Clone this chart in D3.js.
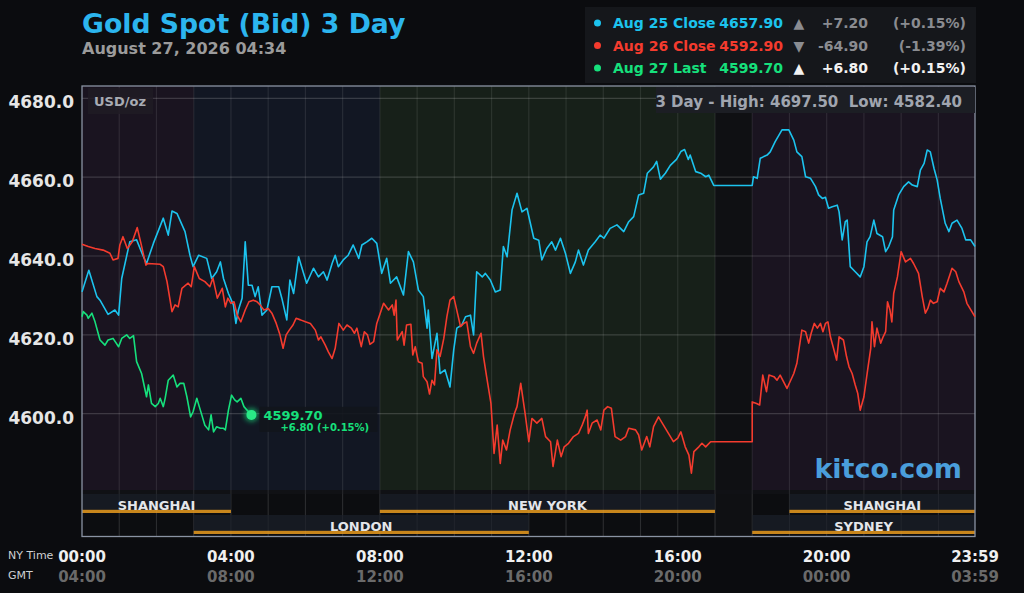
<!DOCTYPE html>
<html><head><meta charset="utf-8">
<script src="https://cdn.jsdelivr.net/npm/d3@7"></script>
<style>
html,body{margin:0;padding:0;background:#0b0c0f;overflow:hidden;}
svg{display:block;font-family:"DejaVu Sans",sans-serif;}
</style></head><body>
<svg id="c" width="1024" height="593"></svg>
<script>
// ---------- DATA (minutes after 00:00 NY time, price USD/oz) ----------
const aug25Times = [0,11,24,29,42,53,59,64,77,88,98,104,115,131,139,145,153,166,174,179,188,201,209,217,223,228,236,244,248,252,258,263,268,274,279,284,290,298,306,317,322,330,335,341,349,357,362,373,381,389,395,403,408,413,421,429,437,446,451,459,467,475,483,491,497,507,518,526,534,542,550,556,558,564,572,577,585,593,599,604,612,618,626,631,636,645,650,658,666,674,679,685,693,701,709,717,728,736,741,749,757,763,771,779,787,795,800,808,816,827,835,841,851,862,873,881,889,897,905,911,921,926,932,940,948,958,965,971,977,980,989,997,1005,1010,1018,1080,1082,1088,1093,1104,1109,1117,1128,1139,1147,1152,1160,1166,1174,1182,1187,1193,1198,1203,1209,1217,1220,1225,1230,1233,1238,1246,1254,1260,1265,1270,1276,1281,1290,1295,1300,1306,1308,1316,1324,1332,1338,1346,1351,1357,1362,1367,1373,1378,1383,1391,1397,1402,1410,1418,1424,1432,1439];
const aug25Values = [4630.9,4636.4,4629.7,4628.8,4625.2,4626.3,4625.0,4634.3,4643.6,4644.1,4640.2,4638.1,4643.2,4649.6,4645.3,4651.4,4650.8,4646.2,4640.2,4637.3,4640.2,4639.4,4634.3,4636.0,4638.5,4634.3,4630.5,4627.6,4622.9,4626.3,4629.3,4643.6,4632.6,4632.6,4629.7,4632.2,4625.0,4626.3,4632.2,4632.2,4629.3,4623.8,4633.9,4630.5,4639.8,4635.6,4633.1,4636.9,4634.7,4636.0,4633.9,4638.1,4640.2,4637.3,4639.0,4640.2,4642.8,4639.4,4642.8,4643.6,4644.5,4643.2,4635.6,4639.4,4633.1,4634.7,4630.1,4641.1,4638.5,4631.4,4629.7,4621.7,4626.3,4614.0,4620.4,4610.2,4611.1,4606.8,4616.2,4621.7,4622.5,4624.6,4625.0,4620.0,4636.0,4634.7,4635.6,4633.9,4630.9,4631.4,4642.4,4639.8,4651.7,4655.9,4651.2,4652.1,4644.5,4644.0,4639.0,4641.9,4643.6,4641.5,4644.5,4640.7,4635.6,4638.5,4641.5,4637.7,4641.5,4643.6,4645.3,4644.5,4647.0,4647.9,4646.2,4648.7,4650.0,4655.5,4655.9,4661.0,4662.6,4664.0,4659.5,4661.0,4663.0,4664.5,4666.5,4667.0,4664.5,4665.6,4661.4,4661.0,4660.1,4660.5,4657.9,4657.9,4660.1,4659.7,4664.8,4665.6,4666.4,4669.0,4672.0,4672.0,4669.4,4666.4,4665.2,4660.1,4659.7,4657.6,4655.5,4654.6,4654.9,4652.1,4652.5,4652.9,4651.2,4644.1,4648.7,4649.1,4637.3,4636.0,4634.7,4637.3,4643.6,4644.9,4649.1,4645.7,4644.9,4641.1,4642.4,4644.9,4651.7,4655.5,4657.6,4658.8,4658.0,4657.6,4661.8,4663.5,4666.9,4666.4,4662.2,4659.3,4654.6,4648.3,4646.2,4648.3,4649.1,4647.0,4644.1,4644.1,4642.4];

const aug26Times = [0,10,21,34,45,50,58,61,66,73,81,89,95,98,103,106,126,131,137,145,150,155,161,171,176,181,189,198,206,211,218,226,231,235,240,245,250,256,263,269,276,282,287,293,300,306,313,319,324,329,334,340,345,352,360,368,376,381,385,392,397,403,408,414,421,427,434,439,443,450,455,460,464,470,475,486,494,500,503,506,508,516,519,523,530,533,537,542,548,550,556,560,564,568,572,577,583,588,593,599,605,610,615,620,626,631,636,643,647,652,659,664,669,674,678,684,690,697,701,707,714,720,725,733,741,747,755,759,763,766,772,777,784,792,800,806,811,814,816,822,830,836,841,847,853,859,868,876,881,892,897,902,910,915,921,929,937,945,953,960,965,972,978,982,986,994,999,1005,1013,1018,1080,1080,1087,1092,1097,1103,1107,1115,1120,1125,1136,1147,1152,1160,1166,1171,1175,1180,1185,1190,1194,1198,1202,1206,1211,1216,1220,1227,1232,1236,1241,1246,1250,1254,1260,1266,1271,1273,1277,1281,1287,1291,1295,1298,1302,1305,1308,1314,1320,1327,1335,1340,1348,1354,1359,1363,1367,1372,1378,1383,1389,1394,1402,1408,1413,1421,1426,1434,1439];
const aug26Values = [4643.0,4642.4,4641.9,4641.5,4640.7,4639.0,4639.4,4642.8,4644.9,4641.9,4643.6,4647.2,4643.2,4641.1,4637.7,4638.1,4637.9,4637.3,4633.5,4625.9,4627.6,4627.1,4631.8,4633.1,4632.2,4637.3,4634.3,4633.5,4632.2,4634.4,4629.3,4631.8,4627.1,4629.3,4628.0,4628.4,4625.0,4623.3,4626.3,4628.4,4628.8,4628.4,4627.6,4626.3,4626.7,4625.5,4622.9,4620.0,4616.6,4620.0,4621.2,4622.5,4624.2,4623.8,4623.3,4622.9,4621.2,4618.7,4619.5,4617.4,4615.7,4614.0,4616.6,4622.9,4621.2,4622.5,4621.7,4620.4,4621.7,4617.0,4620.8,4620.0,4617.6,4618.3,4622.9,4628.0,4626.3,4627.6,4625.0,4628.8,4618.7,4620.8,4617.4,4622.5,4622.7,4614.9,4617.0,4613.2,4612.8,4609.4,4608.1,4605.0,4608.5,4607.3,4616.2,4614.5,4619.1,4624.6,4628.8,4629.7,4625.5,4622.1,4622.9,4623.3,4617.0,4615.3,4617.9,4620.4,4614.5,4609.4,4602.6,4589.9,4597.1,4587.4,4593.3,4590.8,4595.9,4600.1,4601.8,4607.7,4600.1,4592.9,4598.8,4597.6,4598.8,4594.2,4592.9,4586.6,4590.4,4593.3,4589.1,4591.6,4592.5,4594.2,4595.0,4597.1,4599.2,4600.9,4595.0,4597.6,4598.4,4595.9,4600.9,4601.8,4601.4,4594.2,4593.3,4594.2,4596.3,4595.9,4594.6,4590.8,4594.2,4591.6,4596.7,4599.2,4597.1,4595.0,4592.9,4593.8,4595.4,4591.6,4589.5,4584.9,4590.4,4591.6,4592.5,4591.6,4592.9,4592.9,4592.9,4603.0,4602.6,4602.2,4609.8,4605.6,4609.8,4609.4,4608.5,4609.8,4606.4,4610.2,4612.8,4621.2,4620.8,4617.9,4620.4,4622.9,4621.7,4622.9,4620.8,4622.9,4623.3,4619.5,4616.6,4613.6,4619.5,4618.7,4614.5,4611.9,4610.2,4607.3,4605.2,4600.9,4604.3,4611.1,4616.6,4623.3,4617.0,4621.7,4617.9,4619.5,4620.8,4628.4,4626.3,4623.3,4630.5,4634.7,4641.1,4638.5,4639.4,4638.1,4635.6,4629.7,4625.5,4626.7,4628.8,4628.0,4628.4,4631.8,4630.9,4633.1,4636.9,4636.0,4633.5,4630.9,4628.0,4625.9,4624.6];

const aug27Times = [0,2,8,10,16,21,29,37,42,50,59,64,72,77,83,88,96,104,107,112,118,123,126,131,134,139,147,153,158,164,169,175,179,185,189,193,198,204,208,212,217,223,228,231,236,241,246,250,256,261,266,273];
const aug27Values = [4624.6,4625.9,4625.0,4624.2,4625.5,4623.3,4618.7,4617.4,4618.7,4619.1,4617.0,4619.1,4620.0,4619.1,4619.8,4613.2,4610.2,4604.3,4607.3,4602.6,4601.8,4602.6,4603.9,4601.8,4603.9,4608.5,4609.8,4606.8,4607.7,4607.7,4604.3,4599.2,4600.5,4603.9,4601.8,4599.7,4597.1,4595.9,4599.7,4595.4,4596.7,4596.3,4596.3,4595.9,4600.9,4604.7,4603.5,4603.0,4603.9,4601.8,4600.9,4599.7];

const seriesNames = ["Aug 25 Close","Aug 26 Close","Aug 27 Last"];
const seriesLast = ["4657.90","4592.90","4599.70"];
const seriesChange = ["+7.20","-64.90","+6.80"];
const seriesPct = ["(+0.15%)","(-1.39%)","(+0.15%)"];
const seriesDir = ["up","down","up"];

const yTicks = [4600,4620,4640,4660,4680];
const xTickMinutes = [0,240,480,720,960,1200,1439];
const nyTickLabels = ["00:00","04:00","08:00","12:00","16:00","20:00","23:59"];
const gmtTickLabels = ["04:00","08:00","12:00","16:00","20:00","00:00","03:59"];

const zoneNames = ["asia","london","newyork","closed","asia"];
const zoneStarts = [0,180,480,1020,1080];
const zoneEnds = [180,480,1020,1080,1439];

const sessionNames = ["SHANGHAI","LONDON","NEW YORK","SYDNEY","SHANGHAI"];
const sessionStarts = [0,180,480,1080,1140];
const sessionEnds = [240,720,1020,1439,1439];
const sessionRows = [0,1,0,1,0];

const titleText = "Gold Spot (Bid) 3 Day";
const dateText = "August 27, 2026 04:34";
const hiLoText = "3 Day - High: 4697.50  Low: 4582.40";
const lastLabel = "4599.70";
const lastSub = "+6.80 (+0.15%)";

// ---------- LAYOUT / STYLE ----------
const L = 82, R = 975, T = 86, PB = 490, FB = 536.5;
const lineColors = ["#1cc3ee","#f43b2e","#16e07c"];
const zoneColors = {asia:"#1a1420", london:"#121723", newyork:"#172019", closed:"#0f1013"};

const svg = d3.select("#c");
const x = d3.scaleLinear().domain([0,1439]).range([L,R]);
const y = d3.scaleLinear().domain([4580.65,4683.12]).range([PB,T]);

svg.append("rect").attr("x",L).attr("y",T).attr("width",R-L).attr("height",FB-T).attr("fill","#0c0d10");
const zones = zoneNames.map((n,i)=>({n,s:zoneStarts[i],e:zoneEnds[i]}));
svg.selectAll("rect.zone").data(zones).enter().append("rect").attr("class","zone")
  .attr("x",d=>x(d.s)).attr("y",T).attr("width",d=>x(d.e)-x(d.s)).attr("height",PB-T)
  .attr("fill",d=>zoneColors[d.n]);
zones.filter(d=>d.n==="closed").forEach(d=>{
  svg.append("rect").attr("x",x(d.s)).attr("y",PB).attr("width",x(d.e)-x(d.s)).attr("height",FB-PB).attr("fill",zoneColors.closed);
});
svg.append("rect").attr("x",L).attr("y",PB).attr("width",R-L).attr("height",4).attr("fill","#111216").attr("opacity",0.9);

const sessions = sessionNames.map((n,i)=>({n,s:sessionStarts[i],e:sessionEnds[i],r:sessionRows[i]}));
const rowTop = [494,515], rowH = 19;
const sg = svg.append("g");
sg.selectAll("rect.bar").data(sessions).enter().append("rect")
  .attr("x",d=>x(d.s)).attr("y",d=>rowTop[d.r]).attr("width",d=>x(d.e)-x(d.s)).attr("height",rowH)
  .attr("fill","#161a22");
sg.selectAll("rect.orange").data(sessions).enter().append("rect")
  .attr("x",d=>x(d.s)).attr("y",d=>rowTop[d.r]+rowH-3.2).attr("width",d=>x(d.e)-x(d.s)).attr("height",3.2)
  .attr("fill","#c8861c");

const grid = svg.append("g");
d3.range(60,1439,60).forEach(m=>{
  grid.append("line").attr("x1",x(m)).attr("x2",x(m)).attr("y1",T).attr("y2",FB)
    .attr("stroke","#ffffff").attr("stroke-opacity",0.09).attr("stroke-width",1.2);
});
yTicks.forEach(v=>{
  grid.append("line").attr("x1",L).attr("x2",R).attr("y1",y(v)).attr("y2",y(v))
    .attr("stroke","#ffffff").attr("stroke-opacity",0.16).attr("stroke-width",1.2);
});

sg.raise();
svg.selectAll("text.sess").data(sessions).enter().append("text")
  .attr("x",d=>(x(d.s)+x(d.e))/2).attr("y",d=>rowTop[d.r]+15.5)
  .attr("text-anchor","middle").attr("font-size",13).attr("font-weight","bold").attr("fill","#e4e6ea")
  .text(d=>d.n);
d3.range(60,1439,60).forEach(m=>{
  svg.append("line").attr("x1",x(m)).attr("x2",x(m)).attr("y1",494).attr("y2",FB)
    .attr("stroke","#ffffff").attr("stroke-opacity",0.05);
});

svg.append("rect").attr("x",L).attr("y",T).attr("width",R-L).attr("height",FB-T)
  .attr("fill","none").attr("stroke","#8a93a3").attr("stroke-width",1.3);

svg.append("rect").attr("x",88).attr("y",88).attr("width",65).attr("height",26).attr("fill","#201b25").attr("opacity",0.85);
svg.append("text").attr("x",94).attr("y",106).attr("font-size",13).attr("font-weight","bold").attr("fill","#a8abb3").text("USD/oz");
svg.append("rect").attr("x",656).attr("y",87).attr("width",R-656).attr("height",26).attr("fill","#1c1e24");
svg.append("text").attr("x",962).attr("y",107).attr("text-anchor","end").attr("font-size",15).attr("font-weight","bold")
  .attr("fill","#a0a5af").style("white-space","pre").text(hiLoText);

const series = [
  aug25Times.map((t,i)=>[t,aug25Values[i]]),
  aug26Times.map((t,i)=>[t,aug26Values[i]]),
  aug27Times.map((t,i)=>[t,aug27Values[i]])
];
const line = d3.line().x(d=>x(d[0])).y(d=>y(d[1]));
series.forEach((s,i)=>{
  svg.append("path").attr("d",line(s)).attr("fill","none").attr("stroke",lineColors[i])
    .attr("stroke-width",1.6).attr("stroke-linejoin","round");
});

const last = series[2][series[2].length-1];
const defs = svg.append("defs");
const f = defs.append("filter").attr("id","glow").attr("x","-100%").attr("y","-100%").attr("width","300%").attr("height","300%");
f.append("feGaussianBlur").attr("stdDeviation",2.5);
svg.append("circle").attr("cx",x(last[0])).attr("cy",y(last[1])).attr("r",7).attr("fill",lineColors[2]).attr("opacity",0.6).attr("filter","url(#glow)");
svg.append("circle").attr("cx",x(last[0])).attr("cy",y(last[1])).attr("r",5).attr("fill","#2ae986");
svg.append("rect").attr("x",x(last[0])+8).attr("y",y(last[1])-8).attr("width",118).attr("height",25).attr("fill","#12151c").attr("opacity",0.9);
svg.append("text").attr("x",x(last[0])+12).attr("y",y(last[1])+5.5).attr("font-size",13).attr("font-weight","bold").attr("fill",lineColors[2]).text(lastLabel);
svg.append("text").attr("x",x(last[0])+29).attr("y",y(last[1])+16.5).attr("font-size",10).attr("font-weight","bold").attr("fill",lineColors[2]).text(lastSub);

svg.append("text").attr("x",962).attr("y",478).attr("text-anchor","end").attr("font-size",27).attr("font-weight","bold").attr("fill","#4a9edb").text("kitco.com");

svg.selectAll("text.yl").data(yTicks).enter().append("text")
  .attr("x",74).attr("y",d=>y(d)+10).attr("text-anchor","end").attr("font-size",17).attr("font-weight","bold")
  .attr("fill","#e6e6e6").text(d=>d3.format(".1f")(d));

svg.selectAll("text.xn").data(xTickMinutes).enter().append("text")
  .attr("x",d=>x(d)).attr("y",562).attr("text-anchor","middle").attr("font-size",15).attr("font-weight","bold")
  .attr("fill","#f0f0f0").text((d,i)=>nyTickLabels[i]);
svg.selectAll("text.xg").data(xTickMinutes).enter().append("text")
  .attr("x",d=>x(d)).attr("y",582).attr("text-anchor","middle").attr("font-size",15).attr("font-weight","bold")
  .attr("fill","#6a6a6a").text((d,i)=>gmtTickLabels[i]);
svg.append("text").attr("x",8).attr("y",559).attr("font-size",11).attr("fill","#cfd0d2").text("NY Time");
svg.append("text").attr("x",8).attr("y",579).attr("font-size",11).attr("fill","#cfd0d2").text("GMT");

svg.append("text").attr("x",82).attr("y",33).attr("font-size",26.7).attr("font-weight","bold").attr("fill","#2cb5ee").text(titleText);
svg.append("text").attr("x",82).attr("y",54).attr("font-size",16).attr("font-weight","bold").attr("fill","#9b9b9b").text(dateText);

svg.append("rect").attr("x",585).attr("y",7).attr("width",R-585+1).attr("height",76).attr("fill","#15171b");
const rowsY = [28,50.5,73];
seriesNames.forEach((n,i)=>{
  const yy = rowsY[i];
  const sub = i<2 ? "#8a8c91" : "#f2f2f2";
  svg.append("circle").attr("cx",597.5).attr("cy",yy-5).attr("r",3.5).attr("fill",lineColors[i]);
  svg.append("text").attr("x",613).attr("y",yy).attr("font-size",14).attr("font-weight","bold").attr("fill",lineColors[i]).text(n);
  svg.append("text").attr("x",783).attr("y",yy).attr("text-anchor","end").attr("font-size",14).attr("font-weight","bold").attr("fill",lineColors[i]).text(seriesLast[i]);
  svg.append("text").attr("x",799).attr("y",yy).attr("text-anchor","middle").attr("font-size",14).attr("fill",sub).text(seriesDir[i]==="up"?"▲":"▼");
  svg.append("text").attr("x",868).attr("y",yy).attr("text-anchor","end").attr("font-size",14).attr("font-weight","bold").attr("fill",sub).text(seriesChange[i]);
  svg.append("text").attr("x",966).attr("y",yy).attr("text-anchor","end").attr("font-size",14).attr("font-weight","bold").attr("fill",sub).text(seriesPct[i]);
});
</script>
</body></html>
